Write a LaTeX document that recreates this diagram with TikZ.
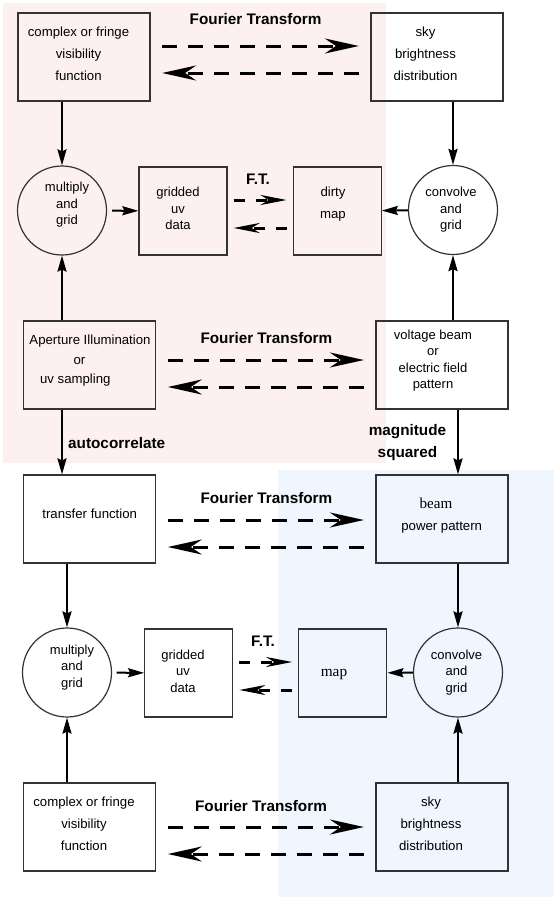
\documentclass[tikz,border=0pt]{standalone}
\usepackage{fontspec}
\setmainfont{Liberation Sans}
\newfontfamily\tms{Liberation Serif}
\usetikzlibrary{arrows.meta}
\definecolor{pinkbg}{RGB}{253,240,240}
\definecolor{bluebg}{RGB}{239,246,253}
\tikzset{
  box/.style={draw=black!80,line width=1.2pt,minimum width=132pt,minimum height=88pt,inner sep=0pt},
  sqbox/.style={box,minimum width=88pt},
  disc/.style={draw=black!80,line width=1.2pt,circle,minimum size=89pt,inner sep=0pt},
  txt/.style={font=\fontsize{13.2}{22}\selectfont,align=center,inner sep=0pt,execute at begin node=\strut,execute at end node=\strut},
  ctxt/.style={txt,font=\fontsize{13}{16.5}\selectfont},
  lbl/.style={font=\fontsize{15.3}{21.5}\selectfont\bfseries,inner sep=0pt},
  arr/.style={line width=2pt,-{Stealth[length=16pt,width=9pt,inset=2pt]}},
  ft/.style={line width=3pt,dash pattern=on 15pt off 11pt,shorten <=11.5pt,shorten >=11.5pt,-{Stealth[length=34pt,width=15pt,inset=11pt]}},
  sft/.style={line width=3pt,dash pattern=on 11pt off 11pt,shorten <=6pt,shorten >=6pt,-{Stealth[length=26pt,width=10pt,inset=8pt]}},
}
\begin{document}
\begin{tikzpicture}[x=1pt,y=-1pt]
\useasboundingbox (0,0) rectangle (554,900);
\fill[pinkbg] (3,3) rectangle (386,463);
\fill[bluebg] (277.5,470) rectangle (554,897);

\node[box] (vis1) at (84,57) {};
\node[txt] (vis1t) at (78.5,57) {complex or fringe\\visibility\\function};
\node[box] (sky1) at (437,57) {};
\node[txt] (sky1t) at (425.5,57) {sky\\brightness\\distribution};
\node[lbl] (ft1) at (255.6,19) {Fourier Transform};

\node[disc] (mul1) at (62,210.5) {};
\node[ctxt] (mul1t) at (67,206) {multiply\\and\\grid};
\node[sqbox] (grid1) at (183,211) {};
\node[ctxt] (grid1t) at (178,211) {gridded\\uv\\data};
\node[sqbox] (dirty) at (337.2,211) {};
\node[txt] (dirtyt) at (333,206) {dirty\\map};
\node[disc] (conv1) at (453,210) {};
\node[ctxt] (conv1t) at (451,211) {convolve\\and\\grid};
\node[lbl] (ft2) at (258,179) {F.T.};

\node[box] (aper) at (89.7,365) {};
\node[txt,font=\fontsize{13.2}{19.4}\selectfont] (apert) at (90,362.5) {Aperture Illumination\\\hspace*{-21pt}or\\\hspace*{-29.4pt}uv sampling};
\node[box] (volt) at (442,365) {};
\node[ctxt] (voltt) at (433,362) {voltage beam\\or\\electric field\\pattern};
\node[lbl] (ft3) at (266.4,338) {Fourier Transform};
\node[lbl,anchor=west] (autoc) at (68,443) {autocorrelate};
\node[lbl,align=center] (magsq) at (407.5,442.5) {magnitude\\squared};

\node[box] (trans) at (89.7,519) {};
\node[txt] (transt) at (89.7,514) {transfer function};
\node[box] (beam) at (442,519) {};
\node[font=\tms\fontsize{15.1}{18}\selectfont,inner sep=0pt] (beamt) at (436,503.5) {beam};
\node[txt] (powt) at (441.7,526) {power pattern};
\node[lbl] (ft4) at (266.4,498) {Fourier Transform};

\node[disc] (mul2) at (67,672.5) {};
\node[ctxt] (mul2t) at (72,668.5) {multiply\\and\\grid};
\node[sqbox] (grid2) at (188.7,673) {};
\node[ctxt] (grid2t) at (183,673.5) {gridded\\uv\\data};
\node[sqbox] (map) at (342.8,673) {};
\node[font=\tms\fontsize{15.3}{18}\selectfont,inner sep=0pt] (mapt) at (334,675) {map};
\node[disc] (conv2) at (458,672.5) {};
\node[ctxt] (conv2t) at (456.5,673.5) {convolve\\and\\grid};
\node[lbl] (ft5) at (263,641.5) {F.T.};

\node[box] (vis2) at (89.7,827) {};
\node[txt] (vis2t) at (84,827) {complex or fringe\\visibility\\function};
\node[box] (sky2) at (442,827) {};
\node[txt] (sky2t) at (431,827) {sky\\brightness\\distribution};
\node[lbl] (ft6) at (261,806) {Fourier Transform};

\draw[ft] (vis1.east |- 0,46) -- (sky1.west |- 0,46);
\draw[ft] (sky1.west |- 0,73) -- (vis1.east |- 0,73);
\draw[arr] (vis1.south -| mul1) -- (mul1);
\draw[arr] (sky1.south -| conv1) -- (conv1);

\draw[sft] (grid1.east |- 0,200) -- (dirty.west |- 0,200);
\draw[sft] (dirty.west |- 0,228) -- (grid1.east |- 0,228);
\draw[arr,shorten <=5pt] (mul1) -- (grid1);
\draw[arr] (conv1) -- (dirty);

\draw[ft] (aper.east |- 0,360) -- (volt.west |- 0,360);
\draw[ft] (volt.west |- 0,387) -- (aper.east |- 0,387);
\draw[arr] (aper.north -| mul1) -- (mul1);
\draw[arr] (volt.north -| conv1) -- (conv1);
\draw[arr] (aper.south -| mul1) -- (trans.north -| mul1);
\draw[arr] (volt.south -| conv2) -- (beam.north -| conv2);

\draw[ft] (trans.east |- 0,520) -- (beam.west |- 0,520);
\draw[ft] (beam.west |- 0,547) -- (trans.east |- 0,547);
\draw[arr] (trans.south -| mul2) -- (mul2);
\draw[arr] (beam.south -| conv2) -- (conv2);

\draw[sft] (grid2.east |- 0,662) -- (map.west |- 0,662);
\draw[sft] (map.west |- 0,690) -- (grid2.east |- 0,690);
\draw[arr,shorten <=4.5pt] (mul2) -- (grid2);
\draw[arr] (conv2) -- (map);

\draw[ft] (vis2.east |- 0,827) -- (sky2.west |- 0,827);
\draw[ft] (sky2.west |- 0,854) -- (vis2.east |- 0,854);
\draw[arr] (vis2.north -| mul2) -- (mul2);
\draw[arr] (sky2.north -| conv2) -- (conv2);
\end{tikzpicture}
\end{document}
